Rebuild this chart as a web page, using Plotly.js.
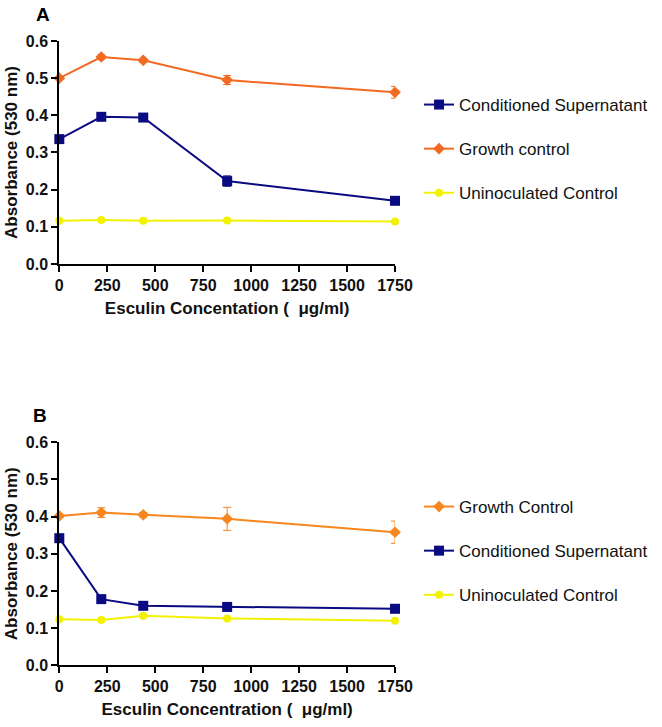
<!DOCTYPE html>
<html>
<head>
<meta charset="utf-8">
<script src="https://cdn.plot.ly/plotly-3.0.1.min.js"></script>
<style>html,body{margin:0;padding:0;background:#fff;}#chart{width:662px;height:727px;}</style>
</head>
<body>
<div id="chart"></div>
<script>
// Concentrations (µg/ml)
const conc = [0, 218.75, 437.5, 875, 1750];
const xTicks = [0, 250, 500, 750, 1000, 1250, 1500, 1750];
const yTicks = [0, 0.1, 0.2, 0.3, 0.4, 0.5, 0.6];

// Panel A
const A_supernatant = [0.336, 0.396, 0.394, 0.223, 0.170];
const A_supernatant_err = [0.006, 0.010, 0.006, 0.014, 0.006];
const A_growth = [0.500, 0.557, 0.548, 0.495, 0.462];
const A_growth_err = [0.004, 0.005, 0.005, 0.012, 0.016];
const A_uninoc = [0.116, 0.118, 0.116, 0.117, 0.114];
const A_uninoc_err = [0.003, 0.003, 0.003, 0.003, 0.003];

// Panel B
const B_growth = [0.402, 0.411, 0.405, 0.394, 0.358];
const B_growth_err = [0.005, 0.013, 0.006, 0.031, 0.030];
const B_supernatant = [0.342, 0.178, 0.160, 0.157, 0.152];
const B_supernatant_err = [0.005, 0.006, 0.004, 0.004, 0.004];
const B_uninoc = [0.124, 0.122, 0.133, 0.126, 0.120];
const B_uninoc_err = [0.003, 0.003, 0.003, 0.003, 0.003];

const navy = '#0a0a82';
const orangeA = '#f26a21';
const orangeB = '#f7861e';
const yellow = '#f2f200';

function tr(x, y, err, name, color, symbol, size, xa, ya, leg, grp) {
  return {
    x: x, y: y, name: name, type: 'scatter', mode: 'lines+markers',
    xaxis: xa, yaxis: ya, legend: leg, legendgroup: grp, cliponaxis: false,
    line: {color: color, width: 2},
    marker: {color: color, symbol: symbol, size: size},
    error_y: {type: 'data', array: err, visible: true, color: color, thickness: 1, width: 4}
  };
}

const data = [
  tr(conc, A_supernatant, A_supernatant_err, 'Conditioned Supernatant', navy, 'square', 10, 'x', 'y', 'legend', 'a1'),
  tr(conc, A_growth, A_growth_err, 'Growth control', orangeA, 'diamond', 9, 'x', 'y', 'legend', 'a2'),
  tr(conc, A_uninoc, A_uninoc_err, 'Uninoculated Control', yellow, 'circle', 8, 'x', 'y', 'legend', 'a3'),
  tr(conc, B_growth, B_growth_err, 'Growth Control', orangeB, 'diamond', 9, 'x2', 'y2', 'legend2', 'b1'),
  tr(conc, B_supernatant, B_supernatant_err, 'Conditioned Supernatant', navy, 'square', 10, 'x2', 'y2', 'legend2', 'b2'),
  tr(conc, B_uninoc, B_uninoc_err, 'Uninoculated Control', yellow, 'circle', 8, 'x2', 'y2', 'legend2', 'b3')
];

const FAM = 'Arial, "Liberation Sans", sans-serif';
const tickFont = {family: FAM, size: 16, color: '#111', weight: 'bold'};
const titleFont = {family: FAM, size: 17, color: '#111', weight: 'bold'};

function xax(domain, anchor, title) {
  return {
    domain: domain, anchor: anchor, range: [0, 1750], tickmode: 'array', tickvals: xTicks,
    ticktext: xTicks.map(String), showgrid: false, zeroline: false, showline: true,
    linecolor: '#000', linewidth: 2, ticks: 'outside', ticklen: 6, tickwidth: 2, tickcolor: '#000',
    tickfont: tickFont, title: {text: title, font: titleFont, standoff: 9}, automargin: false
  };
}
function yax(domain, anchor) {
  return {
    domain: domain, anchor: anchor, range: [0, 0.6], tickmode: 'array', tickvals: yTicks,
    ticktext: yTicks.map(v => v.toFixed(1)), showgrid: false, zeroline: false, showline: true,
    linecolor: '#000', linewidth: 2, ticks: 'outside', ticklen: 6, tickwidth: 2, tickcolor: '#000',
    tickfont: tickFont, title: {text: 'Absorbance (530 nm)', font: titleFont, standoff: 4}, automargin: false
  };
}

const legFont = {family: FAM, size: 17, color: '#111'};

const layout = {
  width: 662, height: 727,
  margin: {l: 0, r: 0, t: 0, b: 0},
  paper_bgcolor: '#fff', plot_bgcolor: '#fff',
  showlegend: true,
  xaxis: xax([0.0896, 0.5967], 'y', 'Esculin Concentation (\u00a0 \u03bcg/ml)'),
  yaxis: yax([0.6369, 0.9436], 'x'),
  xaxis2: xax([0.0896, 0.5967], 'y2', 'Esculin Concentration (\u00a0 \u03bcg/ml)'),
  yaxis2: yax([0.0849, 0.3916], 'x2'),
  legend: {x: 0.633, y: 1 - 87/727, xanchor: 'left', yanchor: 'top', font: legFont,
           bgcolor: 'rgba(0,0,0,0)', tracegroupgap: 19, traceorder: 'grouped'},
  legend2: {x: 0.633, y: 1 - 489/727, xanchor: 'left', yanchor: 'top', font: legFont,
            bgcolor: 'rgba(0,0,0,0)', tracegroupgap: 19, traceorder: 'grouped'},
  annotations: [
    {text: 'A', x: 42.5 / 662, y: 1 - 15 / 727, xref: 'paper', yref: 'paper', showarrow: false,
     xanchor: 'center', yanchor: 'middle',
     font: {family: FAM, size: 19, color: '#000', weight: 'bold'}},
    {text: 'B', x: 40 / 662, y: 1 - 415 / 727, xref: 'paper', yref: 'paper', showarrow: false,
     xanchor: 'center', yanchor: 'middle',
     font: {family: FAM, size: 19, color: '#000', weight: 'bold'}}
  ]
};

Plotly.newPlot('chart', data, layout, {displayModeBar: false, staticPlot: true});
</script>
</body>
</html>
